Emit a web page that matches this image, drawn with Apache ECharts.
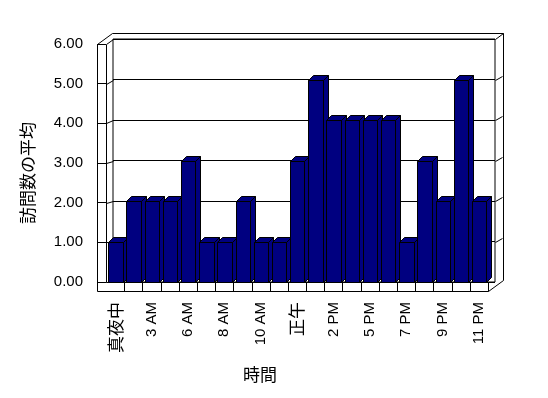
<!DOCTYPE html>
<html><head><meta charset="utf-8">
<script src="https://cdn.jsdelivr.net/npm/echarts@6/dist/echarts.min.js"></script>
<style>html,body{margin:0;padding:0;background:#fff}#c{width:548px;height:398px}</style>
</head><body><div id="c"></div>
<script>
const categories = ['真夜中','1 AM','3 AM','4 AM','6 AM','7 AM','8 AM','9 AM','10 AM','11 AM','正午','1 PM','2 PM','3 PM','5 PM','6 PM','7 PM','8 PM','9 PM','10 PM','11 PM'];
const visits = [1,2,2,2,3,1,1,2,1,1,3,5,4,4,4,4,1,3,2,5,2];
const yTickValues = [0,1,2,3,4,5,6];
const yAxisTitle = '訪問数の平均';
const xAxisTitle = '時間';

const LATIN = "'Liberation Sans', Arial, 'Noto Sans CJK JP', sans-serif";
const CJK = "'Noto Sans CJK JP', sans-serif";
const isCJK = s => /[\u3000-\u9fff]/.test(s);
const P = v => Math.round(v) + 0.5;

const chart = echarts.init(document.getElementById('c'), null, {renderer: 'canvas'});

function renderBar(params, api) {
  const idx = api.value(0), val = api.value(1);
  const top = api.coord([idx, val]);
  const base = api.coord([idx, 0]);
  const bw = api.size([1, 0])[0];
  const l = P(top[0] - bw * 0.38), r = P(top[0] + bw * 0.41);
  const t = P(top[1]), b = P(base[1]);
  const dx = 5, dy = -5;
  const style = {fill: '#000080', stroke: '#000', lineWidth: 1};
  return {type: 'group', children: [
    {type: 'polygon', shape: {points: [[r, b], [r + dx, b + dy], [r + dx, t + dy], [r, t]]}, style},
    {type: 'polygon', shape: {points: [[l, t], [l + dx, t + dy], [r + dx, t + dy], [r, t]]}, style},
    {type: 'rect', shape: {x: l, y: t, width: r - l, height: b - t}, style}
  ]};
}

const option = {
  animation: false,
  backgroundColor: '#fff',
  grid: [
    {left: 106, right: 60, top: 39, bottom: 116},
    {left: 113, right: 53, top: 39, bottom: 116, show: true, borderColor: '#000', borderWidth: 1, backgroundColor: 'transparent'},
    {left: 97, width: 9, top: 44, bottom: 116}
  ],
  xAxis: [
    {gridIndex: 0, type: 'category', data: categories, boundaryGap: true,
     axisLine: {show: false}, axisTick: {show: false}, splitLine: {show: false},
     axisLabel: {interval: 1, rotate: 90, margin: 20, color: '#000', fontSize: 15, fontFamily: LATIN,
       formatter: v => isCJK(v) ? '{c|' + v + '}' : v,
       rich: {c: {fontSize: 17, fontFamily: CJK, color: '#000'}}}},
    {gridIndex: 1, type: 'value', min: 0, max: 1, show: false},
    {gridIndex: 2, type: 'value', min: 0, max: 1, show: false}
  ],
  yAxis: [
    {gridIndex: 0, type: 'value', min: 0, max: 6, interval: 1, show: false},
    {gridIndex: 1, type: 'value', min: 0, max: 6, interval: 1,
     axisLine: {show: false}, axisTick: {show: false}, axisLabel: {show: false},
     splitLine: {show: true, lineStyle: {color: '#000', width: 1}}},
    {gridIndex: 2, type: 'value', min: 0, max: 6, interval: 1,
     axisLine: {show: false}, splitLine: {show: false},
     axisTick: {show: true, inside: true, length: 9, lineStyle: {color: '#000', width: 1}},
     axisLabel: {formatter: v => v.toFixed(2), margin: 14, color: '#000', fontSize: 15, fontFamily: LATIN}}
  ],
  series: [{type: 'custom', xAxisIndex: 0, yAxisIndex: 0, z: 10,
    data: visits.map((v, i) => [i, v]), renderItem: renderBar}]
};
chart.setOption(option);

// 3D frame derived from the axes
const fy = v => chart.convertToPixel({yAxisIndex: 2}, v);
const by = v => chart.convertToPixel({yAxisIndex: 1}, v);
const bx0 = chart.convertToPixel({xAxisIndex: 1}, 0);
const bx1 = chart.convertToPixel({xAxisIndex: 1}, 1);
const fx0 = chart.convertToPixel({xAxisIndex: 2}, 0);
const c0 = chart.convertToPixel({xAxisIndex: 0}, 0);
const c1 = chart.convertToPixel({xAxisIndex: 0}, 1);
const bw = c1 - c0;
const n = categories.length;
const ix0 = c0 - bw / 2, ix1 = c0 + (n - 0.5) * bw;
const y0 = by(0);
const floorFront = y0 + 9;
const od = [15, -11];

const segs = [];
const L = (x1, y1, x2, y2, z) => segs.push({type: 'line', z: z || 5, shape: {x1: P(x1), y1: P(y1), x2: P(x2), y2: P(y2)}, style: {stroke: '#000', lineWidth: 1}});
L(fx0, fy(6), fx0, floorFront);
L(ix0, fy(6), ix0, y0);
L(fx0, floorFront, ix1, floorFront);
L(ix0, y0, bx0, y0);
yTickValues.forEach(v => L(ix0, fy(v), bx0, by(v)));
L(fx0, fy(6), fx0 + od[0], fy(6) + od[1]);
L(fx0 + od[0], fy(6) + od[1], ix1 + od[0], fy(6) + od[1]);
L(ix1 + od[0], fy(6) + od[1], ix1 + od[0], floorFront + od[1]);
L(ix1, floorFront, ix1 + od[0], floorFront + od[1]);
L(bx1, by(6), ix1 + od[0], fy(6) + od[1]);
yTickValues.slice(1, 6).forEach(v => L(bx1, by(v), bx1 + 7, by(v) - 4));
for (let k = 1; k <= n; k++) L(ix0 + k * bw, y0, ix0 + k * bw, floorFront);

const texts = [
  {type: 'text', x: 28, y: 173, rotation: Math.PI / 2, z: 20,
   style: {text: yAxisTitle, fill: '#000', font: "17px 'Noto Sans CJK JP', sans-serif", align: 'center', verticalAlign: 'middle'}},
  {type: 'text', x: 260, y: 375, z: 20,
   style: {text: xAxisTitle, fill: '#000', font: "17px 'Noto Sans CJK JP', sans-serif", align: 'center', verticalAlign: 'middle'}}
];
chart.setOption({graphic: segs.concat(texts)});
</script>
</body></html>
